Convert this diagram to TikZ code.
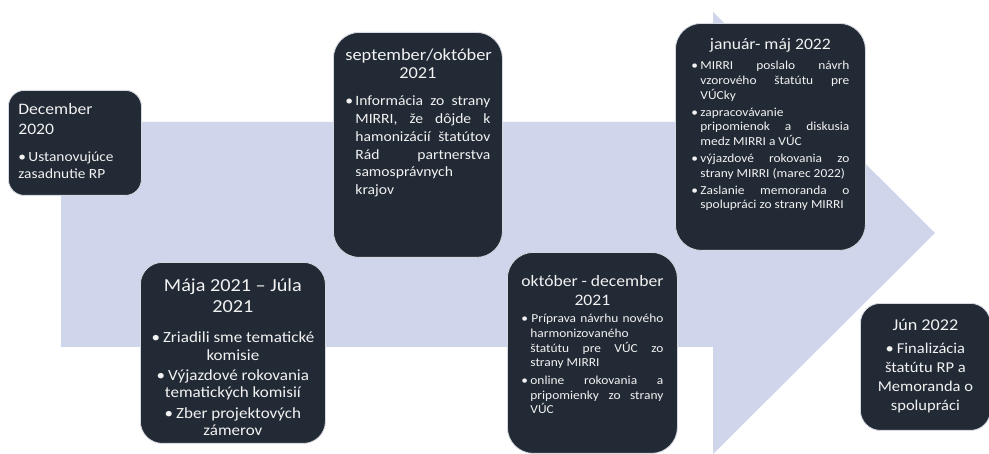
\documentclass[tikz,border=0pt]{standalone}
\usepackage{fontspec}
\setmainfont[FakeStretch=1.1]{Carlito}
\usepackage{tikz}
\usetikzlibrary{positioning}
\definecolor{cardfill}{HTML}{222A35}
\definecolor{cardline}{HTML}{D6D9E0}
\definecolor{cardfont}{HTML}{F2F2F2}
\definecolor{arrowfill}{HTML}{CFD5EA}
\tikzset{card/.style={fill=cardfill, draw=cardline, line width=0.8pt, text=cardfont, rounded corners=#1, anchor=north west, inner xsep=8pt, inner ysep=0pt}, card/.default=20pt}

\newlength\bulw
\setlength\bulw{10pt}
\newcommand\bitem[1]{\par\hangindent=\bulw\hangafter=1\noindent\makebox[\bulw][l]{\textbullet}#1\par}
\newcommand\cardtext[4]{\parbox[t][#2][t]{#1}{\hyphenpenalty=10000\exhyphenpenalty=10000\tolerance=10000\vspace*{#3}#4}}

\begin{document}
\begin{tikzpicture}[x=1pt, y=-1pt]
	\fill[white] (0,0) rectangle (989,454);
	\useasboundingbox (0,0) rectangle (989,454);
	\fill[arrowfill] (61,122) -- (713,122) -- (713,12) -- (935,233) -- (713,454) -- (713,347) -- (61,347) -- cycle;

	\node[card=16pt, inner xsep=10pt] (dec) at (8,90) {\cardtext{113pt}{105pt}{12.5pt}{\raggedright
		{\fontsize{16}{20}\selectfont December\\2020\par}
		\vspace{10pt}
		\fontsize{14}{17}\selectfont
		\bitem{Ustanovujúce\\zasadnutie RP}}};

	\node[card=22pt] (maj) at (140,262) {\cardtext{169pt}{181pt}{13.7pt}{\centering\setlength\parskip{3pt}
		{\fontsize{18.4}{21}\selectfont Mája 2021 – Júla\\2021\par}
		\vspace{9.7pt}
		\fontsize{15.5}{17.3}\selectfont
		\textbullet\hspace{3pt}Zriadili sme tematické\\komisie\par
		\textbullet\hspace{3pt}Výjazdové rokovania\\tematických komisií\par
		\textbullet\hspace{3pt}Zber projektových\\zámerov\par}};

	\node[card=26pt, inner xsep=12pt] (sep) at (333,32) {\cardtext{145pt}{225pt}{16.7pt}{
		{\centering\fontsize{16.7}{18.3}\selectfont september/október\\2021\par}
		\vspace{9.3pt}
		\fontsize{14.2}{17.7}\selectfont
		\bitem{Informácia zo strany\linebreak MIRRI, že dôjde k\linebreak hamonizácií štatútov\linebreak Rád partnerstva\linebreak samosprávnych\newline krajov}}};

	\node[card=26pt, inner xsep=14pt] (okt) at (507,252) {\cardtext{142pt}{201pt}{19.5pt}{\setlength\bulw{9pt}\setlength\parskip{3pt}
		{\centering\fontsize{16}{19}\selectfont október - december\\2021\par}
		\fontsize{12.2}{14.7}\selectfont
		\bitem{\hspace{1pt}Príprava návrhu nového\linebreak harmonizovaného\newline štatútu pre VÚC zo\linebreak strany MIRRI}
		\bitem{online rokovania a\linebreak pripomienky zo strany\linebreak VÚC}}};

	\node[card=26pt, inner xsep=16pt] (jan) at (675,23) {\cardtext{158pt}{227pt}{13.3pt}{\setlength\bulw{9pt}\setlength\parskip{2pt}
		{\centering\fontsize{16}{19}\selectfont január- máj 2022\par}
		\vspace{3.2pt}
		\fontsize{12.2}{14.8}\selectfont
		\bitem{MIRRI poslalo návrh\linebreak vzorového štatútu pre\linebreak VÚCky}
		\bitem{zapracovávanie\newline pripomienok a diskusia\linebreak medz MIRRI a VÚC}
		\bitem{výjazdové rokovania zo\linebreak strany MIRRI (marec 2022)}
		\bitem{Zaslanie memoranda o\linebreak spolupráci zo strany MIRRI}}};

	\node[card=20pt, inner xsep=6pt] (jun) at (860,303) {\cardtext{118pt}{127pt}{16pt}{\centering
		{\fontsize{16.5}{19}\selectfont Jún 2022\par}
		\vspace{4pt}
		\fontsize{15}{19}\selectfont
		\textbullet\hspace{3pt}Finalizácia\\štatútu RP a\\Memoranda o\\spolupráci\par}};
\end{tikzpicture}
\end{document}
